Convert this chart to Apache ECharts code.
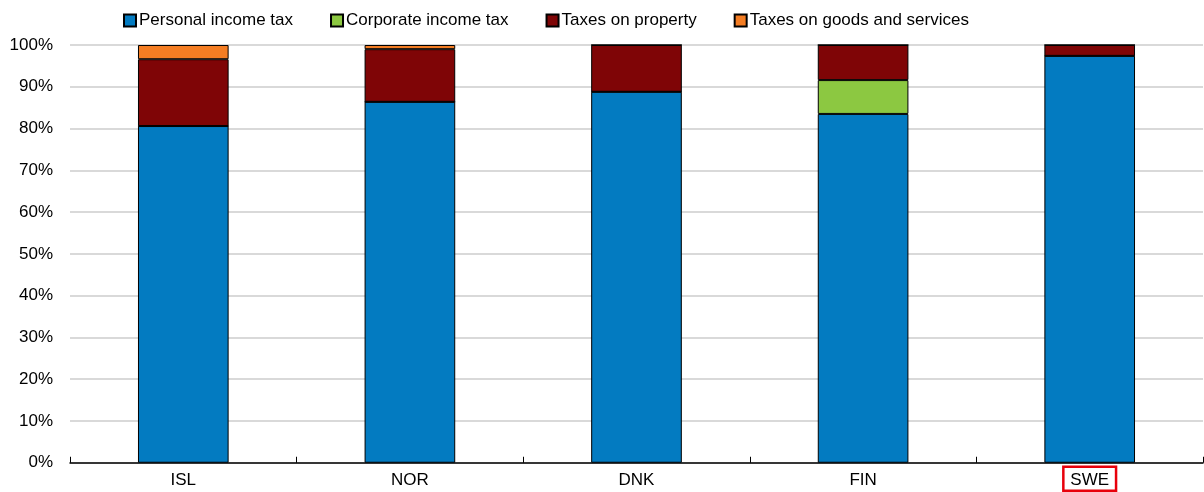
<html>
<head>
<meta charset="utf-8">
<script src="https://cdn.jsdelivr.net/npm/echarts@6/dist/echarts.min.js"></script>
<style>
  body { margin: 0; background: #fff; }
  #main { width: 1204px; height: 492px; }
</style>
</head>
<body>
<div id="main"></div>
<script>
var countries = ['ISL', 'NOR', 'DNK', 'FIN', 'SWE'];
var personal = [80.6, 86.4, 88.8, 83.5, 97.4];
var corporate = [0, 0, 0, 8.1, 0];
var property = [16.0, 12.6, 11.2, 8.4, 2.6];
var goods = [3.4, 1.0, 0, 0, 0];
var yTicks = [0, 10, 20, 30, 40, 50, 60, 70, 80, 90, 100];

var font = 'Liberation Sans, Arial, sans-serif';

function bar(name, data, color) {
  return {
    name: name,
    type: 'bar',
    stack: 'tax',
    data: data,
    barWidth: '40%',
    itemStyle: { color: color, borderColor: '#000', borderWidth: 1 }
  };
}

var myChart = echarts.init(document.getElementById('main'));
var option = {
  animation: false,
  legend: {
    left: 118,
    top: 7,
    itemWidth: 12,
    itemHeight: 12,
    itemGap: 37,
    icon: 'rect',
    textStyle: { fontFamily: font, fontSize: 17, color: '#000', padding: [0, 0, 0, -2] },
    data: ['Personal income tax', 'Corporate income tax', 'Taxes on property', 'Taxes on goods and services']
  },
  grid: { left: 70, right: 1, top: 45, bottom: 29 },
  xAxis: {
    type: 'category',
    data: countries,
    axisLine: { lineStyle: { color: '#000', width: 1.5 } },
    axisTick: { show: true, length: 6, inside: true, lineStyle: { color: '#000' } },
    axisLabel: {
      fontFamily: font, fontSize: 17, color: '#000', margin: 4,
      formatter: function (v) { return v === 'SWE' ? '{box|' + v + '}' : '{plain|' + v + '}'; },
      rich: {
        plain: {
          fontFamily: font, fontSize: 17, color: '#000', padding: [5, 7, 2, 7]
        },
        box: {
          fontFamily: font, fontSize: 17, color: '#000',
          borderColor: '#e8000b', borderWidth: 2.5, padding: [5, 7, 2, 7]
        }
      }
    }
  },
  yAxis: {
    type: 'value',
    min: yTicks[0],
    max: yTicks[yTicks.length - 1],
    interval: 10,
    axisLine: { show: false },
    axisTick: { show: false },
    axisLabel: {
      fontFamily: font, fontSize: 17, color: '#000', margin: 17,
      formatter: function (v) { return v + '%'; }
    },
    splitLine: { lineStyle: { color: '#cccccc', width: 1.5 } }
  },
  series: [
    bar('Personal income tax', personal, '#037bc1'),
    bar('Corporate income tax', corporate, '#8cc841'),
    bar('Taxes on property', property, '#7f0506'),
    bar('Taxes on goods and services', goods, '#f47d23')
  ]
};
myChart.setOption(option);
</script>
</body>
</html>
